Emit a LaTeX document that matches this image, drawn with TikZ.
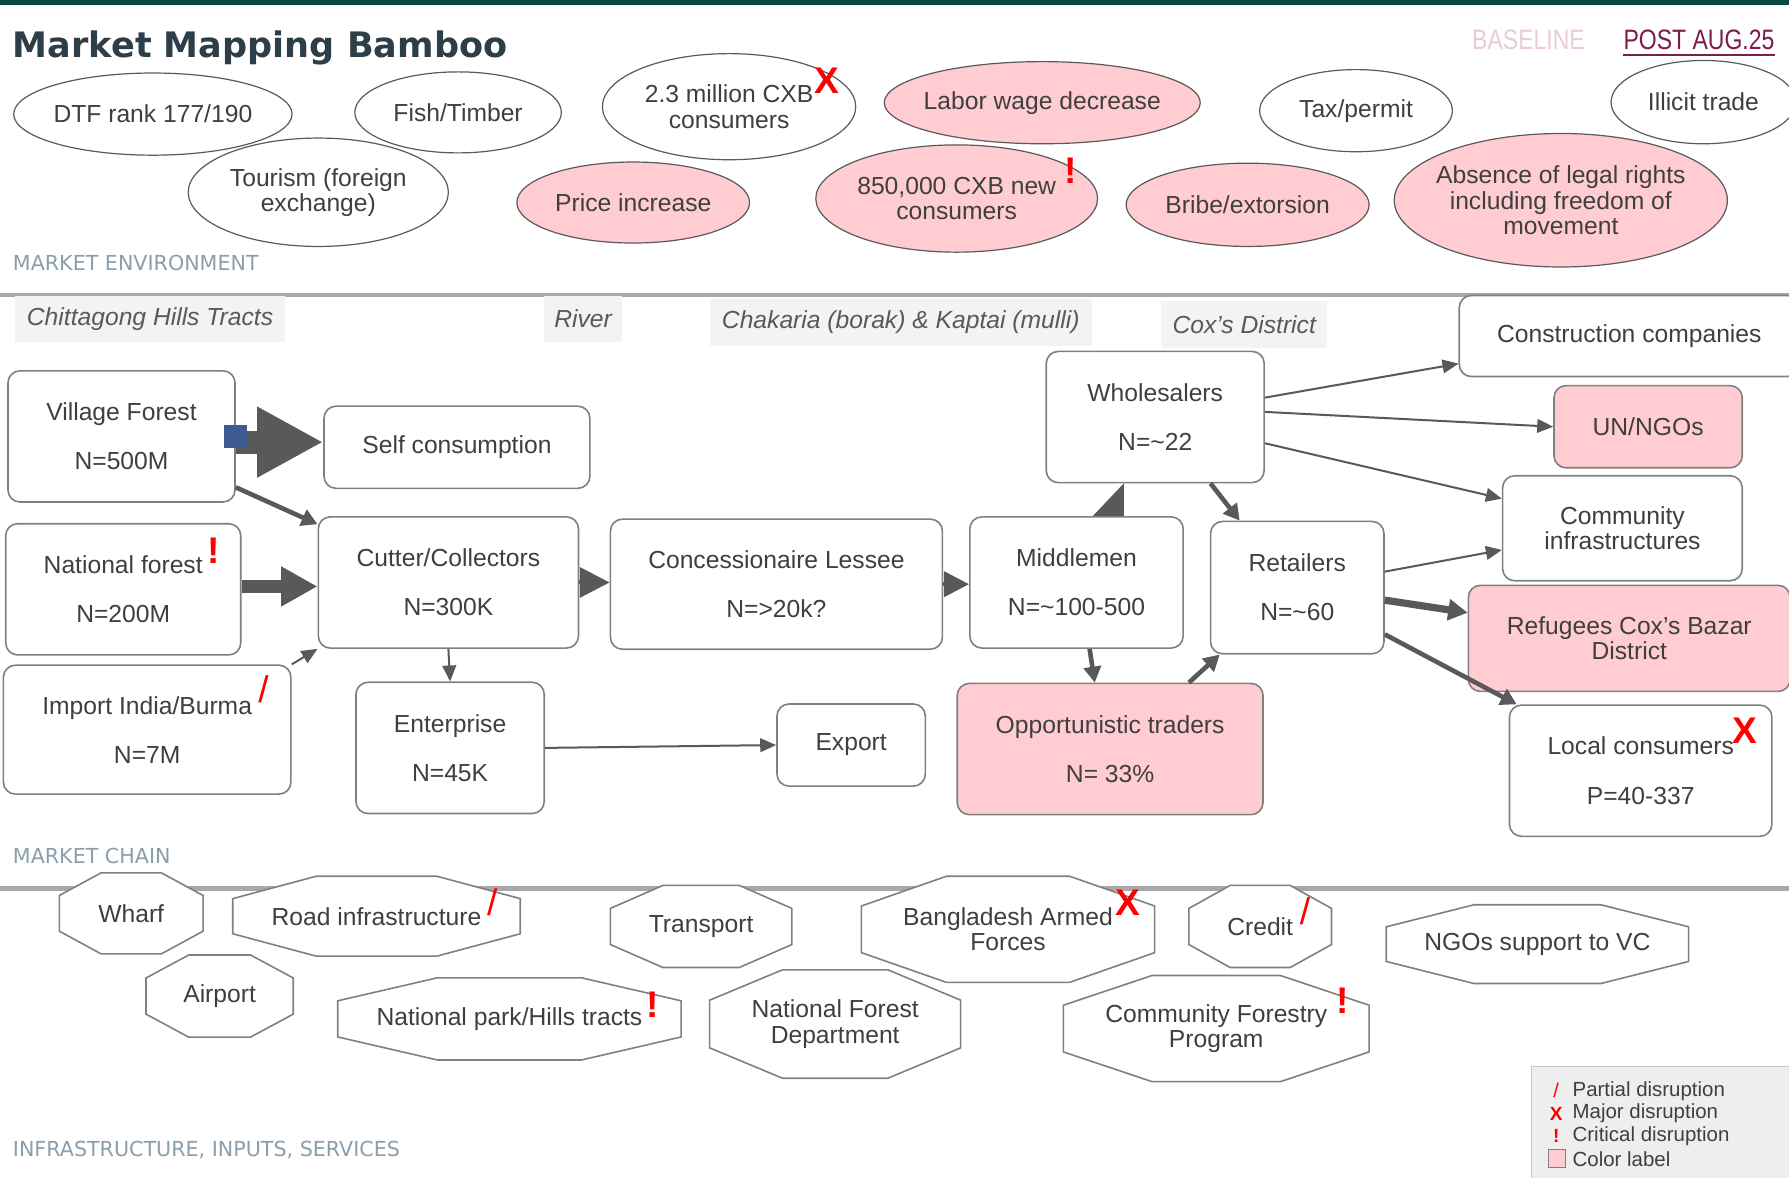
\documentclass[tikz,border=0pt]{standalone}
\usepackage{fontspec}
\setmainfont{Liberation Sans}
\newfontfamily\titlefont{DejaVu Sans}
\newfontfamily\narrowfont{Liberation Sans}[FakeStretch=0.82]
\usepackage{tikz}
\usetikzlibrary{positioning, shapes.geometric, arrows.meta, calc}

\definecolor{pinkfill}{HTML}{FFCCD2}
\definecolor{darkline}{HTML}{5A5A5A}
\definecolor{boxline}{HTML}{808080}
\definecolor{arrowgray}{HTML}{595959}
\definecolor{txt}{HTML}{3F3F3F}
\definecolor{regtxt}{HTML}{595959}
\definecolor{tagbg}{HTML}{F3F3F3}
\definecolor{secblue}{HTML}{8A9EAC}
\definecolor{titlecol}{HTML}{2E3E48}
\definecolor{topgreen}{HTML}{0A4A3C}
\definecolor{sepgray}{HTML}{A8A8A8}
\definecolor{basepink}{HTML}{EBCBD8}
\definecolor{postred}{HTML}{7B1E4B}
\definecolor{legbg}{HTML}{EEEEEE}
\definecolor{legline}{HTML}{C8C8C8}
\definecolor{portblue}{HTML}{3D5A91}

\tikzset{sz/.style 2 args={minimum width=#1*0.02cm, minimum height=#2*0.02cm}}

% octagon of the infrastructure row: name, centre, width, height, text
\newcommand{\octo}[5]{%
  \filldraw[octline, shift={(#2)}] ({-0.21*#3},{-0.5*#4}) -- ({0.21*#3},{-0.5*#4})
    -- ({0.5*#3},{-0.22*#4}) -- ({0.5*#3},{0.22*#4}) -- ({0.21*#3},{0.5*#4})
    -- ({-0.21*#3},{0.5*#4}) -- ({-0.5*#3},{0.22*#4}) -- ({-0.5*#3},{-0.22*#4}) -- cycle;
  \node[infra, sz={#3}{#4}] (#1) at (#2) {#5};%
}

\begin{document}
\begin{tikzpicture}[x=0.02cm, y=-0.02cm,
    env/.style={ellipse, draw=darkline, line width=0.6pt, inner sep=0pt, inner xsep=-3.5pt, align=center, text=txt, font=\fontsize{12.3}{12.6}\selectfont},
    hit/.style={fill=pinkfill},
    chainbox/.style={rectangle, rounded corners=6pt, draw=boxline, line width=0.8pt, fill=white, inner sep=0pt, align=center, text=txt, font=\fontsize{12.3}{24.5}\selectfont},
    infra/.style={inner sep=0pt, align=center, text=txt, font=\fontsize{12.3}{12.6}\selectfont},
    octline/.style={draw=boxline, fill=white, line width=0.8pt},
    region/.style={fill=tagbg, inner sep=0pt, text=regtxt, font=\fontsize{12.3}{14}\selectfont\itshape},
    sectitle/.style={anchor=base west, inner sep=0pt, text=secblue, font=\titlefont\fontsize{10.3}{12}\selectfont},
    flag/.style={text=red, inner sep=0pt, font=\fontsize{18.5}{20}\selectfont\bfseries},
    partial/.style={text=red, inner sep=0pt, font=\fontsize{18.5}{20}\selectfont},
    legendtext/.style={anchor=west, inner sep=0pt, text=txt, font=\fontsize{10.2}{12}\selectfont},
    arrow/.style={arrowgray, line width=1pt, -{Triangle[length=0.28cm, width=0.24cm]}},
    heavy/.style={arrowgray, line width=2.3pt, -{Triangle[length=0.28cm, width=0.3cm]}}
]
\fill[white] (0,0) rectangle (1568,1032);
\useasboundingbox (0,0) rectangle (1568,1032);

% Frame
\fill[topgreen] (0,0) rectangle (1568,4.5);
\draw[sepgray, line width=0.08cm] (0,258.5) -- (1568,258.5);
\draw[sepgray, line width=0.08cm] (0,778.5) -- (1568,778.5);

% Header
\node[anchor=base west, inner sep=0pt, text=titlecol, font=\titlefont\bfseries\fontsize{17.5}{20}\selectfont] (title) at (11,50.2) {Market Mapping Bamboo};
\node[anchor=base west, inner sep=0pt, text=basepink, font=\narrowfont\fontsize{14}{16}\selectfont] (basetag) at (1290,43.8) {BASELINE};
\node[anchor=base west, inner sep=0pt, text=postred, font=\narrowfont\fontsize{14}{16}\selectfont] (post) at (1422.6,43.8) {POST AUG.25};
\draw[postred, line width=1pt] ([yshift=-2.6pt]post.base west) -- ([yshift=-2.6pt]post.base east);

% Market environment
\node[env, sz={244}{72}] (dtf) at (134,100) {DTF rank 177/190};
\node[env, sz={181}{71}] (fish) at (401.5,98.5) {Fish/Timber};
\node[env, sz={228}{95}] (tourism) at (279,168.5) {Tourism (foreign\\exchange)};
\node[env, sz={222}{93}] (cxbold) at (639,93.5) {2.3 million CXB\\consumers};
\node[env, hit, sz={204}{71}] (price) at (555,177.5) {Price increase};
\node[env, hit, sz={277}{72}] (wage) at (913.5,90) {Labor wage decrease};
\node[env, hit, sz={247}{94}] (cxbnew) at (838.5,174) {850,000 CXB new\\consumers};
\node[env, sz={169}{72}] (tax) at (1188.5,97) {Tax/permit};
\node[env, hit, sz={213}{73}] (bribe) at (1093.5,179.5) {Bribe/extorsion};
\node[env, sz={162}{73}] (illicit) at (1493,89.5) {Illicit trade};
\node[env, hit, sz={292}{117}] (rights) at (1368,175.5) {Absence of legal rights\\including freedom of\\movement};
\node[flag] (cxboldflag) at (725,70.5) {X};
\node[flag] (cxbnewflag) at (938.5,150) {!};
\node[sectitle] (envsec) at (11,236.7) {MARKET ENVIRONMENT};

% Regions
\node[region, sz={237}{41}] (cht) at (131.5,279.5) {Chittagong Hills Tracts};
\node[region, sz={68}{41}] (river) at (511,279.5) {River};
\node[region, sz={335}{41}] (chakaria) at (789.5,282.5) {Chakaria (borak) \& Kaptai (mulli)};
\node[region, sz={145}{41}] (coxs) at (1090.5,284.5) {Cox's District};

% Market chain
\node[chainbox, sz={199}{115}] (village) at (106.5,382.5) {Village Forest\\N=500M};
\node[chainbox, sz={233}{72}] (self) at (400.5,392) {Self consumption};
\node[chainbox, sz={206}{115}] (natforest) at (108,516.5) {National forest\\N=200M};
\node[chainbox, sz={252}{113}] (import) at (129,639.5) {Import India/Burma\\N=7M};
\node[chainbox, sz={228}{115}] (cutter) at (393,510.5) {Cutter/Collectors\\N=300K};
\node[chainbox, sz={165}{115}] (enterprise) at (394.5,655.5) {Enterprise\\N=45K};
\node[chainbox, sz={291}{114}] (lessee) at (680.5,512) {Concessionaire Lessee\\N=>20k?};
\node[chainbox, sz={130}{72}] (export) at (746,653) {Export};
\node[chainbox, sz={187}{115}] (middlemen) at (943.5,510.5) {Middlemen\\N=\textasciitilde100-500};
\node[chainbox, sz={191}{115}] (wholesale) at (1012.5,365.5) {Wholesalers\\N=\textasciitilde22};
\node[chainbox, sz={152}{116}] (retail) at (1137,515) {Retailers\\N=\textasciitilde60};
\node[chainbox, hit, sz={268}{115}] (opport) at (973,656.5) {Opportunistic traders\\N= 33\%};
\node[chainbox, sz={298}{71}] (construct) at (1428,294.5) {Construction companies};
\node[chainbox, hit, sz={165}{72}] (ngo) at (1444.5,374) {UN/NGOs};
\node[chainbox, sz={210}{92}, font=\fontsize{12.3}{12.6}\selectfont] (commun) at (1422,463) {Community\\infrastructures};
\node[chainbox, hit, sz={282}{93}, font=\fontsize{12.3}{12.6}\selectfont] (refugee) at (1428,559.5) {Refugees Cox's Bazar\\District};
\node[chainbox, sz={230}{115}] (local) at (1438,675.5) {Local consumers\\P=40-337};
\node[flag] (natflag) at (187,482.6) {!};
\node[partial] (importflag) at (231,604) {/};
\node[flag] (localflag) at (1529,640.5) {X};
\node[sectitle] (chainsec) at (11,756.5) {MARKET CHAIN};

% Connections
\draw[arrowgray, line width=0.4cm, -{Triangle[length=1.16cm, width=1.16cm]}] ($(village.east)+(0,5)$) -- ($(village.east -| self.west)+(0,5)$);
\node[fill=portblue, inner sep=0pt, sz={20}{20}] (port) at (village.east) {};
\draw[heavy] (village.-24) -- (cutter.156);
\draw[arrowgray, line width=0.24cm, -{Triangle[length=0.64cm, width=0.66cm]}] ($(natforest.east)+(0,-2.5)$) -- ($(natforest.east -| cutter.west)+(0,-2.5)$);
\draw[arrow] (import.north east) -- (cutter.south west);
\draw[arrowgray, line width=2pt, -{Triangle[length=0.52cm, width=0.52cm]}] (cutter.east) -- (cutter.east -| lessee.west);
\draw[arrow] (cutter.south) -- (enterprise.north);
\draw[arrow] (enterprise.east) -- (export.west);
\draw[arrowgray, line width=2pt, -{Triangle[length=0.44cm, width=0.44cm]}] (lessee.east) -- (lessee.east -| middlemen.west);
\draw[arrowgray, line width=0.5pt, -{Triangle[length=0.56cm, width=1.06cm, left]}] ($(middlemen.north)+(41,0)$) -- ($(wholesale.south)+(-28,0)$);
\draw[heavy] ($(wholesale.south)+(48.5,0)$) -- ($(retail.north)+(-50.5,0)$);
\draw[heavy] ($(middlemen.south)+(11.5,0)$) -- ($(opport.north)+(-13.5,0)$);
\draw[heavy] ($(opport.north)+(69,0)$) -- ($(retail.south)+(-68,0)$);
\draw[arrow] ($(wholesale.east)+(0,-17)$) -- ($(construct.south west)+(0,-12)$);
\draw[arrow] ($(wholesale.east)+(0,-4.5)$) -- (ngo.west);
\draw[arrow] ($(wholesale.east)+(0,23)$) -- ($(commun.west)+(0,-26)$);
\draw[arrow] ($(retail.east)+(0,-14)$) -- ($(commun.west)+(0,19)$);
\draw[arrowgray, line width=3.6pt, -{Triangle[length=0.34cm, width=0.36cm]}] ($(retail.east)+(0,11)$) -- ($(refugee.west)+(0,-22.5)$);
\draw[heavy] ($(retail.east)+(0,41)$) -- ($(local.north west)+(7,0)$);

% Infrastructure, inputs, services
\octo{wharf}{115,800.5}{126}{71}{Wharf}
\octo{road}{330,803}{252}{70}{Road infrastructure}
\octo{transport}{614.5,812}{159}{72}{Transport}
\octo{armed}{883.5,814.5}{257}{93}{Bangladesh Armed\\Forces}
\octo{credit}{1104.5,812}{125}{72}{Credit}
\octo{ngosupport}{1347.5,827.5}{265}{69}{NGOs support to VC}
\octo{airport}{192.5,873}{129}{72}{Airport}
\octo{park}{446.5,893}{301}{72}{National park/Hills tracts}
\octo{nfd}{732,897.5}{220}{95}{National Forest\\Department}
\octo{cfp}{1066,901.5}{268}{93}{Community Forestry\\Program}
\node[partial] (roadflag) at (431.5,791) {/};
\node[flag] (armedflag) at (988.5,791) {X};
\node[partial] (creditflag) at (1143.7,799) {/};
\node[flag] (parkflag) at (572,880.5) {!};
\node[flag] (cfpflag) at (1176.6,877.4) {!};
\node[sectitle] (infrasec) at (11,1013.5) {INFRASTRUCTURE, INPUTS, SERVICES};

% Legend
\node[draw=legline, fill=legbg, inner sep=0pt, anchor=north west, sz={240}{105}] (legend) at (1342,934.5) {};
\node[partial, font=\fontsize{10}{11}\selectfont] (lgpartial) at (1364,956) {/};
\node[legendtext] (lgpartialtxt) at (1378,956) {Partial disruption};
\node[flag, font=\bfseries\fontsize{9.5}{10}\selectfont] (lgmajor) at (1364,976) {X};
\node[legendtext] (lgmajortxt) at (1378,976) {Major disruption};
\node[flag, font=\bfseries\fontsize{9.5}{10}\selectfont] (lgcritical) at (1364,996) {!};
\node[legendtext] (lgcriticaltxt) at (1378,996) {Critical disruption};
\node[draw=boxline, fill=pinkfill, inner sep=0pt, sz={15}{16}] (lgcolor) at (1364.5,1015) {};
\node[legendtext] (lgcolortxt) at (1378,1016) {Color label};
\end{tikzpicture}
\end{document}
